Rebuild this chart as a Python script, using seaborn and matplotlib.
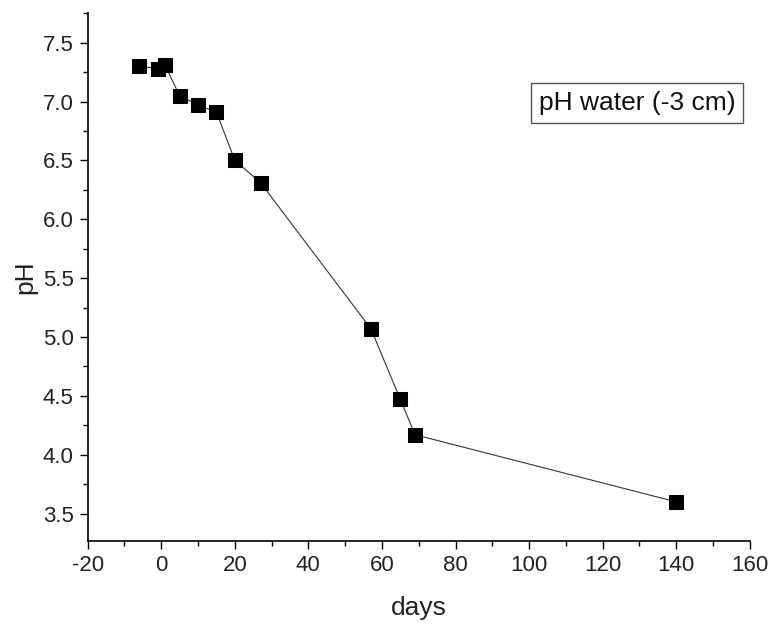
import matplotlib
matplotlib.use("Agg")
import matplotlib.pyplot as plt
import seaborn as sns
import pandas as pd
from matplotlib.ticker import MultipleLocator

days = [-6, -1, 1, 5, 10, 15, 20, 27, 57, 65, 69, 140]
ph = [7.30, 7.28, 7.31, 7.05, 6.97, 6.91, 6.50, 6.31, 5.07, 4.47, 4.17, 3.60]
label = "pH water (-3 cm)"

df = pd.DataFrame({"days": days, "pH": ph})

sns.set_style("ticks")
plt.rcParams['font.family'] = ['Liberation Sans', 'DejaVu Sans']
plt.rcParams['axes.unicode_minus'] = False

fig = plt.figure(figsize=(7.69, 6.28), dpi=100)
ax = fig.add_axes([0.114, 0.139, 0.861, 0.840])

sns.lineplot(data=df, x="days", y="pH", ax=ax, color="#333333", linewidth=0.8,
             marker="s", markersize=9.5, markerfacecolor="black",
             markeredgecolor="black", sort=False)

ax.set_xlim(-20, 160)
ax.set_ylim(3.27, 7.75)
ax.xaxis.set_major_locator(MultipleLocator(20))
ax.xaxis.set_minor_locator(MultipleLocator(10))
ax.set_yticks([3.5, 4.0, 4.5, 5.0, 5.5, 6.0, 6.5, 7.0, 7.5])
ax.yaxis.set_minor_locator(MultipleLocator(0.25))
ax.yaxis.set_major_formatter(matplotlib.ticker.FormatStrFormatter('%.1f'))

ax.tick_params(axis='both', which='major', direction='out', length=6, width=1,
               labelsize=16, colors='black', labelcolor='#222222', pad=4)
ax.tick_params(axis='both', which='minor', direction='out', length=3.5, width=1,
               colors='black')

for s in ['top', 'right']:
    ax.spines[s].set_visible(False)
for s in ['left', 'bottom']:
    ax.spines[s].set_linewidth(1.2)
    ax.spines[s].set_color('black')

ax.set_xlabel("days", fontsize=19, labelpad=15, color='#222222')
ax.set_ylabel("pH", fontsize=19, labelpad=4, color='#222222')

ax.text(0.83, 0.83, label, transform=ax.transAxes, ha='center', va='center',
        fontsize=19, color='#111111',
        bbox=dict(boxstyle='square,pad=0.3', facecolor='white',
                  edgecolor='#555555', linewidth=1))

fig.savefig("out.png", dpi=100)
